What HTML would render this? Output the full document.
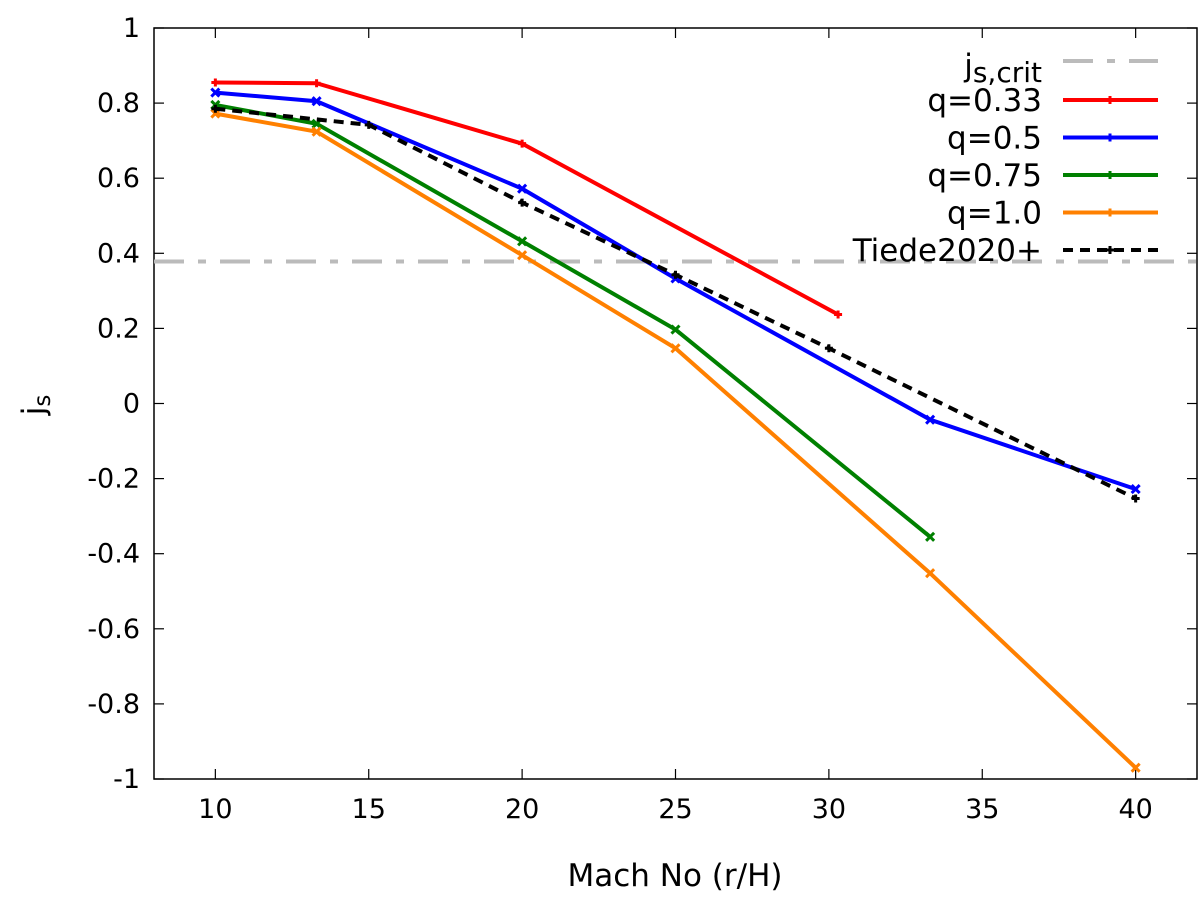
<!DOCTYPE html>
<html><head><meta charset="utf-8"><style>
body{margin:0;background:#fff}
svg text{font-family:"DejaVu Sans","Liberation Sans",sans-serif;fill:#000}
</style></head><body>
<svg width="1200" height="901" xmlns="http://www.w3.org/2000/svg">
<g id="axes"></g><g id="series"></g><g id="legend"></g>
</svg>
<script>
const xTicks=[10,15,20,25,30,35,40];
const yTicks=[-1,-0.8,-0.6,-0.4,-0.2,0,0.2,0.4,0.6,0.8,1];
const yTickLabels=["-1","-0.8","-0.6","-0.4","-0.2","0","0.2","0.4","0.6","0.8","1"];
const jsCrit=0.378;
const xRed=[10,13.3,20,30.3];
const yRed=[0.855,0.853,0.692,0.237];
const xBlue=[10,13.3,20,25,33.3,40];
const yBlue=[0.828,0.805,0.572,0.333,-0.043,-0.228];
const xGreen=[10,13.3,20,25,33.3];
const yGreen=[0.795,0.745,0.432,0.197,-0.355];
const xOrange=[10,13.3,20,25,33.3,40];
const yOrange=[0.772,0.724,0.395,0.147,-0.452,-0.97];
const xTiede=[10,15,20,25,30,40];
const yTiede=[0.785,0.742,0.535,0.343,0.147,-0.253];
const seriesNames=["q=0.33","q=0.5","q=0.75","q=1.0","Tiede2020+"];

const L=154,R=1197,T=28,B=779,xmin=8,xmax=42,ymin=-1,ymax=1;
const sx=v=>L+(v-xmin)/(xmax-xmin)*(R-L);
const sy=v=>B-(v-ymin)/(ymax-ymin)*(B-T);
const NS="http://www.w3.org/2000/svg";
function mk(tag,attrs,parent){const e=document.createElementNS(NS,tag);for(const k in attrs)e.setAttribute(k,attrs[k]);parent.appendChild(e);return e;}
const axes=document.getElementById('axes'),ser=document.getElementById('series'),leg=document.getElementById('legend');

const frame=mk('rect',{x:L,y:T,width:R-L,height:B-T,fill:'none',stroke:'#000','stroke-width':1.5},axes);


xTicks.forEach(v=>{
  const x=sx(v);
  const t1=mk('line',{x1:x,x2:x,y1:B,y2:B-10,stroke:'#000','stroke-width':1.2},axes);
  
  
  mk('line',{x1:x,x2:x,y1:T,y2:T+10,stroke:'#000','stroke-width':1.2},axes);
  const t=mk('text',{x:x,y:B+39,'text-anchor':'middle',style:'font-size:27px'},axes);t.textContent=v;
  
  
});
yTicks.forEach((v,i)=>{
  const y=sy(v);
  const t1=mk('line',{x1:L,x2:L+10,y1:y,y2:y,stroke:'#000','stroke-width':1.2},axes);
  
  
  mk('line',{x1:R,x2:R-10,y1:y,y2:y,stroke:'#000','stroke-width':1.2},axes);
  const t=mk('text',{x:L-14,y:y+9,'text-anchor':'end',style:'font-size:27px'},axes);t.textContent=yTickLabels[i];
  
  
});
const xt=mk('text',{x:675,y:886,'text-anchor':'middle',style:'font-size:31px'},axes);xt.textContent='Mach No (r/H)';


const yt=mk('text',{x:0,y:0,transform:'translate(44,405) rotate(-90)','text-anchor':'middle',style:'font-size:31px'},axes);
yt.innerHTML='j<tspan style="font-size:23px" dy="6">s</tspan>';



const crit=mk('line',{x1:L,x2:R,y1:sy(jsCrit),y2:sy(jsCrit),stroke:'#bbb','stroke-width':4,'stroke-dasharray':'30 14 8 14'},ser);



function series(xs,ys,color,name,dash,marker){
  const g=mk('g',{},ser);
  
  
  const pts=xs.map((x,i)=>sx(x)+','+sy(ys[i])).join(' ');
  const a={points:pts,fill:'none',stroke:color,'stroke-width':4};
  if(dash)a['stroke-dasharray']='10 7';
  mk('polyline',a,g);
  xs.forEach((x,i)=>{
    const cx=sx(x),cy=sy(ys[i]);
    const p=mk('path',{d:marker==='plus'?`M${cx-4} ${cy}h8M${cx} ${cy-4}v8`:`M${cx-4} ${cy-4}l8 8M${cx-4} ${cy+4}l8 -8`,stroke:color,'stroke-width':3},g);
    
    
  });
}
series(xRed,yRed,'#ff0000','series-q033',false,'plus');
series(xBlue,yBlue,'#0000ff','series-q05',false,'x');
series(xGreen,yGreen,'#008000','series-q075',false,'x');
series(xOrange,yOrange,'#ff8000','series-q10',false,'x');
series(xTiede,yTiede,'#000','series-tiede2020',true,'plus');

// legend
const lt=mk('text',{x:1042,y:76,'text-anchor':'end',style:'font-size:31px'},leg);
lt.innerHTML='j<tspan style="font-size:28px" dy="6">s,crit</tspan>';


mk('line',{x1:1063,x2:1158,y1:61,y2:61,stroke:'#bbb','stroke-width':4,'stroke-dasharray':'30 14 8 14'},leg);
const cols=['#ff0000','#0000ff','#008000','#ff8000','#000'];
seriesNames.forEach((n,i)=>{
  const y=100+i*37.5;
  const t=mk('text',{x:1042,y:y+11,'text-anchor':'end',style:'font-size:31px'},leg);t.textContent=n;
  
  
  const a={x1:1063,x2:1158,y1:y,y2:y,stroke:cols[i],'stroke-width':4};
  if(i===4)a['stroke-dasharray']='10 7';
  const l=mk('line',a,leg);
  
  
  mk('path',{d:`M1106 ${y}h8M1110 ${y-4}v8`,stroke:cols[i],'stroke-width':3},leg);
});
</script>
</body></html>
